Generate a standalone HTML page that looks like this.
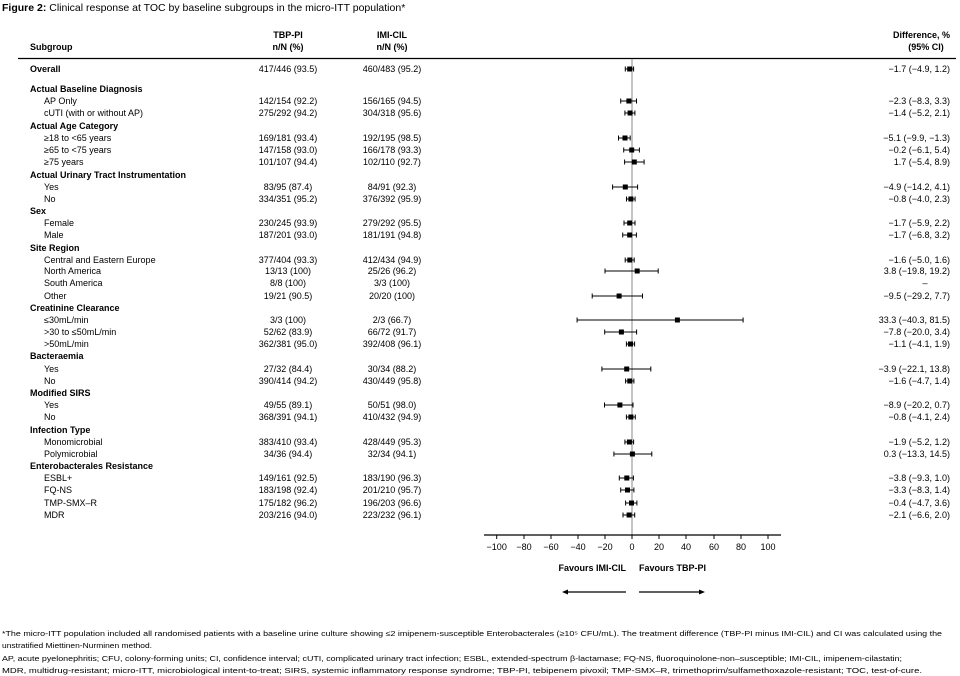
<!DOCTYPE html>
<html><head><meta charset="utf-8"><style>
html,body{margin:0;padding:0;background:#fff;}
svg{display:block;font-family:"Liberation Sans",Arial,sans-serif;}
</style></head><body>
<svg width="960" height="676" viewBox="0 0 960 676" xmlns="http://www.w3.org/2000/svg">
<text x="2" y="11" font-size="10.5"><tspan font-weight="bold">Figure 2:</tspan> Clinical response at TOC by baseline subgroups in the micro-ITT population*</text>
<g font-size="9" font-weight="bold">
<text x="288" y="38" text-anchor="middle">TBP-PI</text>
<text x="288" y="50" text-anchor="middle">n/N (%)</text>
<text x="392" y="38" text-anchor="middle">IMI-CIL</text>
<text x="392" y="50" text-anchor="middle">n/N (%)</text>
<text x="30" y="50">Subgroup</text>
<text x="950" y="38" text-anchor="end">Difference, %</text>
<text x="926" y="50" text-anchor="middle">(95% CI)</text>
</g>
<line x1="18" y1="58.5" x2="956" y2="58.5" stroke="#000" stroke-width="1.2"/>
<line x1="632" y1="59" x2="632" y2="535" stroke="#888" stroke-width="1"/>
<g font-size="9">
<g font-weight="bold">
<text x="30" y="72">Overall</text>
<text x="30" y="92">Actual Baseline Diagnosis</text>
<text x="30" y="129">Actual Age Category</text>
<text x="30" y="178">Actual Urinary Tract Instrumentation</text>
<text x="30" y="214">Sex</text>
<text x="30" y="251">Site Region</text>
<text x="30" y="311">Creatinine Clearance</text>
<text x="30" y="359">Bacteraemia</text>
<text x="30" y="396">Modified SIRS</text>
<text x="30" y="433">Infection Type</text>
<text x="30" y="469">Enterobacterales Resistance</text>
</g>
<g>
<text x="44" y="104">AP Only</text>
<text x="44" y="116">cUTI (with or without AP)</text>
<text x="44" y="141">≥18 to &lt;65 years</text>
<text x="44" y="153">≥65 to &lt;75 years</text>
<text x="44" y="165">≥75 years</text>
<text x="44" y="190">Yes</text>
<text x="44" y="202">No</text>
<text x="44" y="226">Female</text>
<text x="44" y="238">Male</text>
<text x="44" y="263">Central and Eastern Europe</text>
<text x="44" y="274">North America</text>
<text x="44" y="286">South America</text>
<text x="44" y="299">Other</text>
<text x="44" y="323">≤30mL/min</text>
<text x="44" y="335">&gt;30 to ≤50mL/min</text>
<text x="44" y="347">&gt;50mL/min</text>
<text x="44" y="372">Yes</text>
<text x="44" y="384">No</text>
<text x="44" y="408">Yes</text>
<text x="44" y="420">No</text>
<text x="44" y="445">Monomicrobial</text>
<text x="44" y="457">Polymicrobial</text>
<text x="44" y="481">ESBL+</text>
<text x="44" y="493">FQ-NS</text>
<text x="44" y="506">TMP-SMX–R</text>
<text x="44" y="518">MDR</text>
</g>
<g text-anchor="middle">
<text x="288" y="72">417/446 (93.5)</text><text x="392" y="72">460/483 (95.2)</text>
<text x="288" y="104">142/154 (92.2)</text><text x="392" y="104">156/165 (94.5)</text>
<text x="288" y="116">275/292 (94.2)</text><text x="392" y="116">304/318 (95.6)</text>
<text x="288" y="141">169/181 (93.4)</text><text x="392" y="141">192/195 (98.5)</text>
<text x="288" y="153">147/158 (93.0)</text><text x="392" y="153">166/178 (93.3)</text>
<text x="288" y="165">101/107 (94.4)</text><text x="392" y="165">102/110 (92.7)</text>
<text x="288" y="190">83/95 (87.4)</text><text x="392" y="190">84/91 (92.3)</text>
<text x="288" y="202">334/351 (95.2)</text><text x="392" y="202">376/392 (95.9)</text>
<text x="288" y="226">230/245 (93.9)</text><text x="392" y="226">279/292 (95.5)</text>
<text x="288" y="238">187/201 (93.0)</text><text x="392" y="238">181/191 (94.8)</text>
<text x="288" y="263">377/404 (93.3)</text><text x="392" y="263">412/434 (94.9)</text>
<text x="288" y="274">13/13 (100)</text><text x="392" y="274">25/26 (96.2)</text>
<text x="288" y="286">8/8 (100)</text><text x="392" y="286">3/3 (100)</text>
<text x="288" y="299">19/21 (90.5)</text><text x="392" y="299">20/20 (100)</text>
<text x="288" y="323">3/3 (100)</text><text x="392" y="323">2/3 (66.7)</text>
<text x="288" y="335">52/62 (83.9)</text><text x="392" y="335">66/72 (91.7)</text>
<text x="288" y="347">362/381 (95.0)</text><text x="392" y="347">392/408 (96.1)</text>
<text x="288" y="372">27/32 (84.4)</text><text x="392" y="372">30/34 (88.2)</text>
<text x="288" y="384">390/414 (94.2)</text><text x="392" y="384">430/449 (95.8)</text>
<text x="288" y="408">49/55 (89.1)</text><text x="392" y="408">50/51 (98.0)</text>
<text x="288" y="420">368/391 (94.1)</text><text x="392" y="420">410/432 (94.9)</text>
<text x="288" y="445">383/410 (93.4)</text><text x="392" y="445">428/449 (95.3)</text>
<text x="288" y="457">34/36 (94.4)</text><text x="392" y="457">32/34 (94.1)</text>
<text x="288" y="481">149/161 (92.5)</text><text x="392" y="481">183/190 (96.3)</text>
<text x="288" y="493">183/198 (92.4)</text><text x="392" y="493">201/210 (95.7)</text>
<text x="288" y="506">175/182 (96.2)</text><text x="392" y="506">196/203 (96.6)</text>
<text x="288" y="518">203/216 (94.0)</text><text x="392" y="518">223/232 (96.1)</text>
</g>
<g text-anchor="end">
<text x="950" y="72">−1.7 (−4.9, 1.2)</text>
<text x="950" y="104">−2.3 (−8.3, 3.3)</text>
<text x="950" y="116">−1.4 (−5.2, 2.1)</text>
<text x="950" y="141">−5.1 (−9.9, −1.3)</text>
<text x="950" y="153">−0.2 (−6.1, 5.4)</text>
<text x="950" y="165">1.7 (−5.4, 8.9)</text>
<text x="950" y="190">−4.9 (−14.2, 4.1)</text>
<text x="950" y="202">−0.8 (−4.0, 2.3)</text>
<text x="950" y="226">−1.7 (−5.9, 2.2)</text>
<text x="950" y="238">−1.7 (−6.8, 3.2)</text>
<text x="950" y="263">−1.6 (−5.0, 1.6)</text>
<text x="950" y="274">3.8 (−19.8, 19.2)</text>
<text x="925" y="286" text-anchor="middle">–</text>
<text x="950" y="299">−9.5 (−29.2, 7.7)</text>
<text x="950" y="323">33.3 (−40.3, 81.5)</text>
<text x="950" y="335">−7.8 (−20.0, 3.4)</text>
<text x="950" y="347">−1.1 (−4.1, 1.9)</text>
<text x="950" y="372">−3.9 (−22.1, 13.8)</text>
<text x="950" y="384">−1.6 (−4.7, 1.4)</text>
<text x="950" y="408">−8.9 (−20.2, 0.7)</text>
<text x="950" y="420">−0.8 (−4.1, 2.4)</text>
<text x="950" y="445">−1.9 (−5.2, 1.2)</text>
<text x="950" y="457">0.3 (−13.3, 14.5)</text>
<text x="950" y="481">−3.8 (−9.3, 1.0)</text>
<text x="950" y="493">−3.3 (−8.3, 1.4)</text>
<text x="950" y="506">−0.4 (−4.7, 3.6)</text>
<text x="950" y="518">−2.1 (−6.6, 2.0)</text>
</g>
</g>
<g stroke="#000" stroke-width="1">
<path d="M625.3 69H633.6M625.3 66.5V71.5M633.6 66.5V71.5"/>
<path d="M620.7 101H636.5M620.7 98.5V103.5M636.5 98.5V103.5"/>
<path d="M624.9 113H634.9M624.9 110.5V115.5M634.9 110.5V115.5"/>
<path d="M618.5 138H630.2M618.5 135.5V140.5M630.2 135.5V140.5"/>
<path d="M623.7 150H639.4M623.7 147.5V152.5M639.4 147.5V152.5"/>
<path d="M624.6 162H644.1M624.6 159.5V164.5M644.1 159.5V164.5"/>
<path d="M612.6 187H637.6M612.6 184.5V189.5M637.6 184.5V189.5"/>
<path d="M626.5 199H635.1M626.5 196.5V201.5M635.1 196.5V201.5"/>
<path d="M624.0 223H635.0M624.0 220.5V225.5M635.0 220.5V225.5"/>
<path d="M622.7 235H636.4M622.7 232.5V237.5M636.4 232.5V237.5"/>
<path d="M625.2 260H634.2M625.2 257.5V262.5M634.2 257.5V262.5"/>
<path d="M605.0 271H658.2M605.0 268.5V273.5M658.2 268.5V273.5"/>
<path d="M592.2 296H642.5M592.2 293.5V298.5M642.5 293.5V298.5"/>
<path d="M577.1 320H743.1M577.1 317.5V322.5M743.1 317.5V322.5"/>
<path d="M604.7 332H636.6M604.7 329.5V334.5M636.6 329.5V334.5"/>
<path d="M626.4 344H634.6M626.4 341.5V346.5M634.6 341.5V346.5"/>
<path d="M601.9 369H650.8M601.9 366.5V371.5M650.8 366.5V371.5"/>
<path d="M625.6 381H633.9M625.6 378.5V383.5M633.9 378.5V383.5"/>
<path d="M604.5 405H633.0M604.5 402.5V407.5M633.0 402.5V407.5"/>
<path d="M626.4 417H635.3M626.4 414.5V419.5M635.3 414.5V419.5"/>
<path d="M624.9 442H633.6M624.9 439.5V444.5M633.6 439.5V444.5"/>
<path d="M613.9 454H651.8M613.9 451.5V456.5M651.8 451.5V456.5"/>
<path d="M619.3 478H633.4M619.3 475.5V480.5M633.4 475.5V480.5"/>
<path d="M620.7 490H633.9M620.7 487.5V492.5M633.9 487.5V492.5"/>
<path d="M625.6 503H636.9M625.6 500.5V505.5M636.9 500.5V505.5"/>
<path d="M623.0 515H634.7M623.0 512.5V517.5M634.7 512.5V517.5"/>
</g>
<g fill="#000">
<rect x="627.2" y="66.5" width="5" height="5"/>
<rect x="626.4" y="98.5" width="5" height="5"/>
<rect x="627.6" y="110.5" width="5" height="5"/>
<rect x="622.5" y="135.5" width="5" height="5"/>
<rect x="629.2" y="147.5" width="5" height="5"/>
<rect x="631.8" y="159.5" width="5" height="5"/>
<rect x="622.8" y="184.5" width="5" height="5"/>
<rect x="628.4" y="196.5" width="5" height="5"/>
<rect x="627.2" y="220.5" width="5" height="5"/>
<rect x="627.2" y="232.5" width="5" height="5"/>
<rect x="627.3" y="257.5" width="5" height="5"/>
<rect x="634.7" y="268.5" width="5" height="5"/>
<rect x="616.6" y="293.5" width="5" height="5"/>
<rect x="674.9" y="317.5" width="5" height="5"/>
<rect x="618.9" y="329.5" width="5" height="5"/>
<rect x="628.0" y="341.5" width="5" height="5"/>
<rect x="624.2" y="366.5" width="5" height="5"/>
<rect x="627.3" y="378.5" width="5" height="5"/>
<rect x="617.4" y="402.5" width="5" height="5"/>
<rect x="628.4" y="414.5" width="5" height="5"/>
<rect x="626.9" y="439.5" width="5" height="5"/>
<rect x="629.9" y="451.5" width="5" height="5"/>
<rect x="624.3" y="475.5" width="5" height="5"/>
<rect x="625.0" y="487.5" width="5" height="5"/>
<rect x="629.0" y="500.5" width="5" height="5"/>
<rect x="626.6" y="512.5" width="5" height="5"/>
</g>
<line x1="484" y1="535" x2="781" y2="535" stroke="#000" stroke-width="1.2"/>
<g stroke="#000" stroke-width="1">
<path d="M496.7 535v4M524 535v4M551 535v4M578 535v4M605 535v4M632 535v4M659 535v4M686 535v4M714 535v4M741 535v4M768 535v4"/>
</g>
<g font-size="9" text-anchor="middle">
<text x="496.7" y="550">−100</text><text x="524" y="550">−80</text><text x="551" y="550">−60</text><text x="578" y="550">−40</text><text x="605" y="550">−20</text><text x="632" y="550">0</text><text x="659" y="550">20</text><text x="686" y="550">40</text><text x="714" y="550">60</text><text x="741" y="550">80</text><text x="768" y="550">100</text>
</g>
<g font-size="9" font-weight="bold">
<text x="626" y="571" text-anchor="end">Favours IMI-CIL</text>
<text x="639" y="571" text-anchor="start">Favours TBP-PI</text>
</g>
<g stroke="#000" stroke-width="1.3">
<line x1="626" y1="592" x2="566" y2="592"/>
<line x1="639" y1="592" x2="700" y2="592"/>
</g>
<path d="M562 592l6-2.5v5z" fill="#000"/>
<path d="M705 592l-6-2.5v5z" fill="#000"/>
<g font-size="7.5">
<text x="2" y="636" textLength="940" lengthAdjust="spacingAndGlyphs">*The micro-ITT population included all randomised patients with a baseline urine culture showing ≤2 imipenem-susceptible Enterobacterales (≥10⁵ CFU/mL). The treatment difference (TBP-PI minus IMI-CIL) and CI was calculated using the</text>
<text x="2" y="648" textLength="150" lengthAdjust="spacingAndGlyphs">unstratified Miettinen-Nurminen method.</text>
<text x="2" y="661" textLength="900" lengthAdjust="spacingAndGlyphs">AP, acute pyelonephritis; CFU, colony-forming units; CI, confidence interval; cUTI, complicated urinary tract infection; ESBL, extended-spectrum β-lactamase; FQ-NS, fluoroquinolone-non–susceptible; IMI-CIL, imipenem-cilastatin;</text>
<text x="2" y="673" textLength="920" lengthAdjust="spacingAndGlyphs">MDR, multidrug-resistant; micro-ITT, microbiological intent-to-treat; SIRS, systemic inflammatory response syndrome; TBP-PI, tebipenem pivoxil; TMP-SMX–R, trimethoprim/sulfamethoxazole-resistant; TOC, test-of-cure.</text>
</g>
</svg>
</body></html>
